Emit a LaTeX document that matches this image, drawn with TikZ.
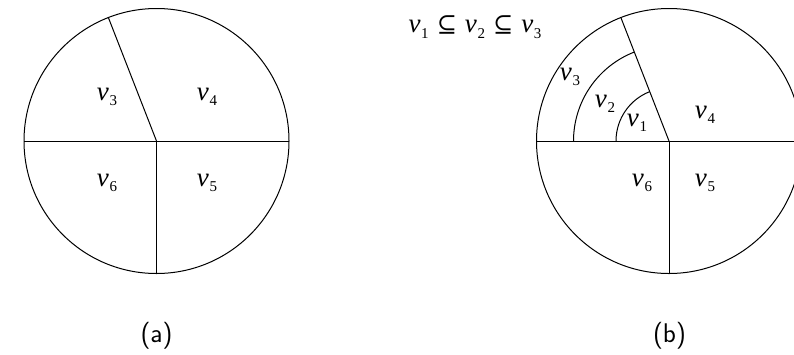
\documentclass[tikz,border=0pt]{standalone}
\usepackage{fontspec}
\setmainfont{Liberation Serif}
\newfontfamily\symfnt{DejaVu Serif}
\newcommand{\vv}[1]{\textit{v}\kern0.02em\raisebox{-0.2em}{\fontsize{15}{15}\selectfont #1}}
\newcommand{\subeq}{\hspace{0.3em}{\symfnt\fontsize{24}{24}\selectfont ⊆}\hspace{0.3em}}
\begin{document}
\begin{tikzpicture}[x=1pt,y=-1pt,
  edge/.style={line width=1pt},
  lab/.style={inner sep=0pt,font=\fontsize{27}{30}\selectfont},
  captxt/.style={inner sep=0pt,font=\sffamily\fontsize{27}{30}\selectfont}]
\useasboundingbox (0,0) rectangle (794,354);
\clip (0,0) rectangle (794,354);
% (a)
\coordinate (ca) at (156.5,141);
\draw[edge] (ca) circle[radius=132.5];
\draw[edge] (ca) ++(-132.5,0) coordinate (aw) -- ++(265,0) coordinate (ae);
\draw[edge] (ca) -- ++(0,132.5) coordinate (as);
\draw[edge] (ca) -- ++(248.7:132.5) coordinate (at);
\node[lab] (a3) at (107,97) {\vv{3}};
\node[lab] (a4) at (207,97) {\vv{4}};
\node[lab] (a6) at (107,183) {\vv{6}};
\node[lab] (a5) at (207,183) {\vv{5}};
\node[captxt] (capa) at (156.5,336) {(a)};
% (b)
\coordinate (cb) at (669,141);
\draw[edge] (cb) circle[radius=132.5];
\draw[edge] (cb) ++(-132.5,0) -- ++(265,0);
\draw[edge] (cb) -- ++(0,132.5);
\draw[edge] (cb) -- ++(248.7:132.5);
\draw[edge] (cb) ++(-95.5,0) arc[start angle=180,end angle=248.7,radius=95.5];
\draw[edge] (cb) ++(-53,0) arc[start angle=180,end angle=248.7,radius=53];
\node[lab] (b3) at (570,77) {\vv{3}};
\node[lab] (b2) at (605,104) {\vv{2}};
\node[lab] (b1) at (637,123) {\vv{1}};
\node[lab] (b4) at (705,115) {\vv{4}};
\node[lab] (b6) at (642,183) {\vv{6}};
\node[lab] (b5) at (705,183) {\vv{5}};
\node[lab] (rel) at (475,27) {\vv{1}\subeq\vv{2}\subeq\vv{3}};
\node[captxt] (capb) at (669.5,336) {(b)};
\end{tikzpicture}
\end{document}
